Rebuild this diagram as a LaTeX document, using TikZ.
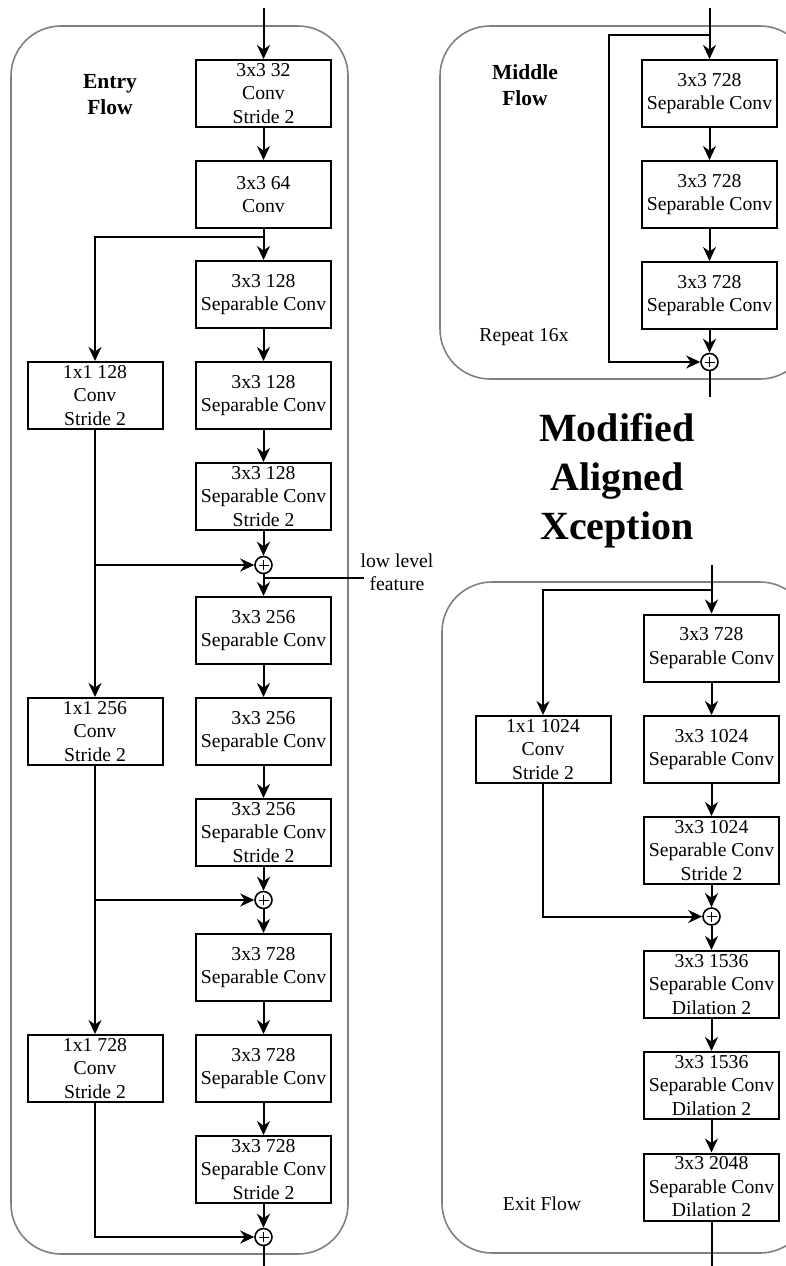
\documentclass[tikz,border=0pt]{standalone}
\usepackage{fontspec}
\setmainfont{Liberation Serif}
\usetikzlibrary{arrows.meta}
\begin{document}
\begin{tikzpicture}[x=1pt,y=-1pt,
  every node/.style={font=\fontsize{19.7}{23.5}\selectfont},
  blk/.style={draw, line width=2pt, minimum width=135pt, minimum height=67pt, inner sep=0pt, align=center},
  sum/.style={draw, circle, line width=1.6pt, minimum size=17pt, inner sep=0pt,
    path picture={
      \draw[line width=0.9pt] ([xshift=-5pt]path picture bounding box.center) -- ([xshift=5pt]path picture bounding box.center);
      \draw[line width=0.9pt] ([yshift=-5pt]path picture bounding box.center) -- ([yshift=5pt]path picture bounding box.center);}},
  arr/.style={line width=2pt, -{Stealth[length=14pt,width=13pt,inset=4.5pt]}},
  ln/.style={line width=2pt},
  frame/.style={draw=black!50, line width=1.6pt, rounded corners=50pt},
  lbl/.style={font=\fontsize{21.5}{26}\selectfont\bfseries, align=center},
  ttl/.style={font=\fontsize{40}{49}\selectfont\bfseries, align=center}
]
\useasboundingbox (0,0) rectangle (786,1266);
\clip (0,0) rectangle (786,1266);

% ---------- group frames ----------
\draw[frame] (11,26) rectangle (348,1254);
\draw[frame] (440,26) rectangle (810,379);
\draw[frame] (442,582) rectangle (810,1253);

% ---------- Entry flow ----------
\node[lbl] (entrylbl) at (110,95) {Entry\\Flow};
\node[blk] (e1) at (263.5,93.5) {3x3 32\\Conv\\Stride 2};
\node[blk] (e2) at (263.5,194.5) {3x3 64\\Conv};
\node[blk] (e3) at (263.5,294.5) {3x3 128\\Separable Conv};
\node[blk] (e4) at (263.5,395.5) {3x3 128\\Separable Conv};
\node[blk] (e5) at (263.5,496.5) {3x3 128\\Separable Conv\\Stride 2};
\node[sum] (s1) at (263.5,565) {};
\node[blk] (e6) at (263.5,630.5) {3x3 256\\Separable Conv};
\node[blk] (e7) at (263.5,731.5) {3x3 256\\Separable Conv};
\node[blk] (e8) at (263.5,832.5) {3x3 256\\Separable Conv\\Stride 2};
\node[sum] (s2) at (263.5,900) {};
\node[blk] (e9) at (263.5,967.5) {3x3 728\\Separable Conv};
\node[blk] (e10) at (263.5,1068.5) {3x3 728\\Separable Conv};
\node[blk] (e11) at (263.5,1169.5) {3x3 728\\Separable Conv\\Stride 2};
\node[sum] (s3) at (263.5,1237) {};

\node[blk] (l1) at (95,395.5) {1x1 128\\Conv\\Stride 2};
\node[blk] (l2) at (95,731.5) {1x1 256\\Conv\\Stride 2};
\node[blk] (l3) at (95,1068.5) {1x1 728\\Conv\\Stride 2};

\coordinate (ein) at (263.5,8);
\coordinate (eout) at (263.5,1266);
\coordinate (ebr) at (263.5,237);
\coordinate (llj) at (263.5,578);
\coordinate (lle) at (364,578);

\draw[arr] (ein) -- (e1);
\draw[arr] (e1) -- (e2);
\draw[arr] (e2) -- (e3);
\draw[arr] (ebr) -| (l1.north);
\draw[arr] (e3) -- (e4);
\draw[arr] (e4) -- (e5);
\draw[arr] (e5) -- (s1);
\draw[arr] (s1) -- (e6);
\draw[arr] (e6) -- (e7);
\draw[arr] (e7) -- (e8);
\draw[arr] (e8) -- (s2);
\draw[arr] (s2) -- (e9);
\draw[arr] (e9) -- (e10);
\draw[arr] (e10) -- (e11);
\draw[arr] (e11) -- (s3);
\draw[ln] (s3) -- (eout);

\draw[arr] (l1.south) -- (l2.north);
\draw[arr] (l1.south |- s1) -- (s1.west);
\draw[arr] (l2.south) -- (l3.north);
\draw[arr] (l2.south |- s2) -- (s2.west);
\draw[arr] (l3.south) |- (s3.west);

\draw[ln] (llj) -- (lle);
\node[align=center] (lowlvl) at (397,572.5) {low level\\feature};

% ---------- Middle flow ----------
\node[lbl] (midlbl) at (525,85) {Middle\\Flow};
\node (rep) at (524,337) {Repeat 16x};
\node[blk] (m1) at (709.5,93.5) {3x3 728\\Separable Conv};
\node[blk] (m2) at (709.5,194.5) {3x3 728\\Separable Conv};
\node[blk] (m3) at (709.5,295.5) {3x3 728\\Separable Conv};
\node[sum] (sm) at (709.5,362) {};

\coordinate (min) at (709.5,8);
\coordinate (mtop) at (709.5,35);
\coordinate (mk1) at (609,35);
\coordinate (mk2) at (609,362);
\coordinate (mout) at (709.5,397);

\draw[arr] (min) -- (m1);
\draw[arr] (m1) -- (m2);
\draw[arr] (m2) -- (m3);
\draw[arr] (m3) -- (sm);
\draw[arr] (mtop) -- (mk1) -- (mk2) -- (sm.west);
\draw[ln] (sm) -- (mout);

% ---------- Title ----------
\node[ttl] (title) at (617,481) {Modified\\Aligned\\Xception};

% ---------- Exit flow ----------
\node (exitlbl) at (542,1204) {Exit Flow};
\node[blk] (x1) at (711.5,648) {3x3 728\\Separable Conv};
\node[blk] (x2) at (711.5,749.5) {3x3 1024\\Separable Conv};
\node[blk] (x3) at (711.5,850.5) {3x3 1024\\Separable Conv\\Stride 2};
\node[sum] (sx) at (711.5,916.5) {};
\node[blk] (x4) at (711.5,984.5) {3x3 1536\\Separable Conv\\Dilation 2};
\node[blk] (x5) at (711.5,1085.5) {3x3 1536\\Separable Conv\\Dilation 2};
\node[blk] (x6) at (711.5,1187) {3x3 2048\\Separable Conv\\Dilation 2};
\node[blk] (xl) at (543,749.5) {1x1 1024\\Conv\\Stride 2};

\coordinate (xin) at (711.5,565);
\coordinate (xbr) at (711.5,590);
\coordinate (xout) at (711.5,1266);

\draw[arr] (xin) -- (x1);
\draw[arr] (xbr) -| (xl.north);
\draw[arr] (x1) -- (x2);
\draw[arr] (x2) -- (x3);
\draw[arr] (x3) -- (sx);
\draw[arr] (xl.south) |- (sx.west);
\draw[arr] (sx) -- (x4);
\draw[arr] (x4) -- (x5);
\draw[arr] (x5) -- (x6);
\draw[ln] (x6) -- (xout);
\end{tikzpicture}
\end{document}
